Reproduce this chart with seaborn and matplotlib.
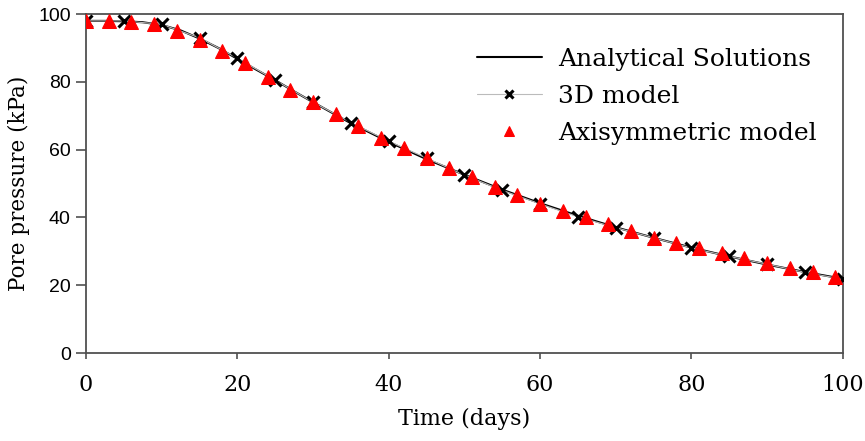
import matplotlib
matplotlib.use("Agg")
import matplotlib.pyplot as plt
import seaborn as sns
import pandas as pd

# Data
analytical_t = [0, 2.5, 5, 7.5, 10, 12.5, 15, 17.5, 20, 22.5, 25, 27.5, 30, 35, 40, 45, 50, 55, 60, 65, 70, 75, 80, 85, 90, 95, 100]
analytical_p = [98, 98, 97.9, 97.6, 96.8, 95.2, 92.8, 90.0, 86.8, 83.6, 80.5, 77.2, 74.0, 67.8, 62.3, 57.2, 52.6, 48.2, 44.2, 40.5, 37.1, 34.0, 31.1, 28.5, 26.1, 23.9, 21.9]

model3d_t = [0, 5, 10, 15, 20, 25, 30, 35, 40, 45, 50, 55, 60, 65, 70, 75, 80, 85, 90, 95, 100]
model3d_p = [98, 98, 97, 93, 87, 80.5, 74, 68, 62.5, 57.5, 52.5, 48, 44, 40.2, 37, 34, 31, 28.5, 26.2, 23.8, 21.8]

axi_t = [0, 3, 6, 9, 12, 15, 18, 21, 24, 27, 30, 33, 36, 39, 42, 45, 48, 51, 54, 57, 60, 63, 66, 69, 72, 75, 78, 81, 84, 87, 90, 93, 96, 99]
axi_p = [98, 98, 97.8, 97, 95, 92.5, 89, 85.5, 81.5, 77.5, 74, 70.5, 67, 63.5, 60.5, 57.5, 54.5, 52, 49, 46.5, 44, 42, 40, 38, 36, 34, 32.5, 31, 29.5, 28, 26.5, 25, 24, 22.5]

xticks = [0, 20, 40, 60, 80, 100]
yticks = [0, 20, 40, 60, 80, 100]

sns.set_style("white")
plt.rcParams["text.color"] = "black"
plt.rcParams["axes.labelcolor"] = "black"
plt.rcParams["xtick.color"] = "black"
plt.rcParams["ytick.color"] = "black"
serif = ["DejaVu Serif"]
sans = ["Liberation Sans", "DejaVu Sans"]

fig = plt.figure(figsize=(8.65, 4.41), dpi=100)
ax = fig.add_axes([0.0994, 0.1995, 0.875, 0.7685])

df_a = pd.DataFrame({"t": analytical_t, "p": analytical_p})
df_3 = pd.DataFrame({"t": model3d_t, "p": model3d_p})
df_x = pd.DataFrame({"t": axi_t, "p": axi_p})

sns.lineplot(data=df_a, x="t", y="p", ax=ax, color="black", linewidth=1.5,
             label="Analytical Solutions", zorder=2)
sns.lineplot(data=df_3, x="t", y="p", ax=ax, color="#bbbbbb", linewidth=0.8,
             marker="x", markersize=8, markeredgewidth=2.2, markeredgecolor="black",
             label="3D model", zorder=3)
sns.lineplot(data=df_x, x="t", y="p", ax=ax, linestyle="none",
             marker="^", markersize=10, markerfacecolor="#ff0000", markeredgecolor="#ff0000",
             color="#ff0000", label="Axisymmetric model", zorder=4)

ax.set_xlim(0, 100)
ax.set_ylim(0, 100)
ax.set_xticks(xticks)
ax.set_yticks(yticks)
ax.set_xticklabels([str(v) for v in xticks], family=serif, fontsize=16)
ax.set_yticklabels([str(v) for v in yticks], family=sans, fontsize=14)
ax.tick_params(axis="y", direction="out", length=7, width=1.2, color="#505050",
               labelcolor="black", pad=4, left=True)
ax.tick_params(axis="x", direction="out", length=4, width=1.2, color="#505050",
               labelcolor="black", pad=11, bottom=True)
ax.set_xlabel("Time (days)", family=serif, fontsize=16, labelpad=9, color="black")
ax.set_ylabel("Pore pressure (kPa)", family=serif, fontsize=15.5, labelpad=6, color="black")

for s in ax.spines.values():
    s.set_color("#505050")
    s.set_linewidth(1.3)

leg = ax.legend(loc="upper left", bbox_to_anchor=(0.516, 0.90), frameon=False,
                prop={"family": serif, "size": 18}, handlelength=2.6,
                labelspacing=0.56, handletextpad=0.65, borderpad=0, borderaxespad=0,
                markerscale=0.75)
for t in leg.get_texts():
    t.set_color("black")

fig.savefig("out.png", dpi=100)
